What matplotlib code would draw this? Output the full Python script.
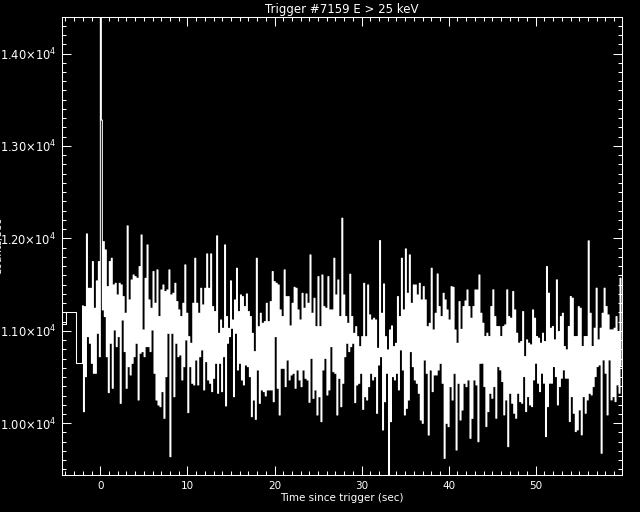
import matplotlib
matplotlib.use('Agg')
import matplotlib.pyplot as plt
import numpy as np
from matplotlib.ticker import MultipleLocator, FuncFormatter

matplotlib.rcParams['font.family'] = 'DejaVu Sans'

TITLE = 'Trigger #7159 E > 25 keV'
XLABEL = 'Time since trigger (sec)'
YLABEL = 'Counts/sec'

# coarse pre-trigger bins (edges in sec, rates in counts/sec)
coarse_edges = [-4.39, -3.90, -2.75, -2.05]
coarse_vals = [11075, 11208, 10656]
prev_edges = [-4.39, -3.90]
prev_vals = [11208]

# fine-resolution rates
t_start = -2.05
t_end = 59.9
counts = [
    11269, 10125, 11262, 10504, 12048, 10937, 11460, 10865, 11460, 10648,
    11749, 10540, 11244, 10540, 11540, 10973, 11749, 10720, 14600, 13280, 11226,
    11965, 11154, 11875, 10720, 11478, 10331, 11749, 10865, 11785, 10378,
    11496, 11009, 11514, 10829, 11388, 10937, 11514, 10215, 11496, 11117,
    11370, 10775, 11190, 10378, 12135, 10612, 11334, 10522, 11550, 10648,
    11604, 10720, 11586, 10865, 11568, 10251, 11695, 10757, 12037, 10775,
    11009, 10720, 11568, 10829, 11929, 10829, 11334, 10775, 11244, 11009,
    11641, 10540, 11298, 10251, 11659, 10197, 11154, 10179, 11442, 10342,
    11496, 10053, 11424, 10504, 11442, 10973, 11659, 9638, 11388, 10973,
    11406, 10287, 11514, 10865, 11316, 10720, 11226, 10739, 11154, 10468,
    # x 180-280 px
    11298, 10612, 11713, 10901, 11190, 10115, 10937, 10612, 10865, 10432,
    11298, 10414, 11785, 10684, 11298, 10414, 11190, 10720, 11460, 10793,
    11280, 10360, 11460, 10666, 11832, 10468, 11460, 10432, 11832, 10342,
    11262, 10486, 11208, 10648, 12027, 10324, 10973, 10648, 11117, 10342,
    11027, 10720, 11929, 10187, 11154, 10865, 11027, 10937, 11540, 11027,
    11117, 10287, 11334, 10973, 11677, 10576, 11208, 10648, 11388, 10468,
    11370, 10414, 11262, 10630, 11399, 10612, 11208, 10504, 11154, 10071,
    10973, 10251, 10775, 10042, 11785, 10576, 11045, 10215, 11190, 10360,
    11081, 10342, 11099, 10295, 11298, 10360, 11099, 10360, 11316, 10360,
    11641, 10233, 11532, 10937, 11514, 10378, 11496, 10089, 11226, 10594,
    # x 280-380 px
    11154, 10594, 11659, 10396, 11370, 10684, 11370, 10468, 11053, 10522,
    11298, 10540, 11471, 10378, 11460, 10576, 11226, 10468, 11117, 10396,
    11406, 10576, 11244, 10486, 11399, 10468, 11298, 10226, 11821, 10702,
    11190, 10269, 11352, 10360, 11045, 10089, 11586, 10287, 11045, 10017,
    11604, 10576, 11262, 10702, 11244, 10305, 11586, 10360, 11226, 10829,
    11226, 10558, 11785, 10540, 11388, 10089, 11550, 10486, 11154, 10179,
    12218, 10432, 11388, 10720, 11154, 10865, 11081, 10775, 11612, 10829,
    11154, 10865, 10973, 10223, 11045, 10414, 10937, 10432, 10829, 10540,
    10937, 10150, 11514, 10287, 10937, 10251, 11496, 10396, 11172, 10540,
    11117, 10468, 11136, 10504, 11117, 10107, 10811, 10630, 11976, 10720,
    # x 380-480 px
    11190, 9927, 11507, 10233, 10937, 10540, 10793, 9400, 11009, 10017,
    11053, 10504, 10829, 10468, 10865, 10540, 11370, 10360, 11154, 10793,
    11785, 10576, 11226, 10089, 11886, 10161, 11406, 10251, 11821, 10775,
    11298, 10612, 11496, 10468, 11496, 10432, 11388, 10324, 11514, 10035,
    11334, 9999, 11478, 10684, 11334, 10540, 11045, 9872, 11081, 10576,
    11677, 10342, 11009, 10522, 11190, 10522, 11615, 10576, 11262, 10648,
    11154, 10432, 11406, 9620, 11334, 9999, 11226, 9963, 11117, 10396,
    11478, 10251, 11471, 10540, 11009, 9710, 10865, 10432, 11316, 10035,
    11016, 10143, 11262, 10432, 11323, 10396, 11442, 10468, 11262, 9837,
    11136, 10053, 11262, 10468, 11442, 10414, 11442, 9800, 11604, 10648,
    # x 480-622 px
    11190, 10649, 11082, 10397, 10938, 9964, 10974, 10126, 10938, 10324,
    11262, 10270, 11443, 10397, 11154, 10054, 11046, 10613, 11046, 10577,
    10938, 10451, 11046, 10090, 11064, 10252, 11443, 9747, 11154, 10324,
    11136, 10216, 11425, 10108, 11226, 10054, 10974, 10324, 10866, 10234,
    10884, 10216, 11208, 10505, 10721, 10126, 10902, 10288, 10866, 10198,
    10848, 10180, 11226, 10469, 11136, 10649, 10938, 10433, 10920, 10342,
    10866, 10541, 10974, 10433, 10884, 9855, 11695, 10180, 11407, 10433,
    11028, 10433, 11046, 10613, 10902, 10505, 11551, 10198, 10992, 10397,
    11154, 10487, 11190, 10577, 10830, 10487, 10794, 10487, 11046, 10018,
    11371, 10288, 11353, 10108, 10938, 9910, 10938, 9928, 11262, 10144,
    11244, 9874, 10830, 10288, 10938, 10108, 10938, 10252, 11973, 10324,
    11190, 10306, 10830, 10397, 11028, 10505, 11461, 10613, 10902, 10631,
    11028, 9675, 11190, 10685, 11461, 10541, 11262, 10090, 11172, 10685,
    11010, 10252, 11010, 10288, 11028, 10234, 11154, 10415, 10992, 10324,
    11569, 10613,
]

XLIM = (-4.4, 59.9)
YLIM = (9440, 14395)


def sci_label(v, pos):
    return r'%.2f$\times$10$^{4}$' % (v / 1e4)


def main():
    fg = 'white'
    lw = 0.75
    fig = plt.figure(figsize=(6.4, 5.12), dpi=100)
    fig.patch.set_facecolor('black')
    ax = fig.add_axes([62 / 640, 1 - 475 / 512, (622 - 62) / 640, (475 - 17) / 512])
    ax.set_facecolor('black')

    n = len(counts)
    t = np.linspace(t_start, t_end, n + 1)
    y = np.append(counts, counts[-1])
    ax.step(t, y, where='post', color=fg, lw=lw)

    ax.step(coarse_edges, coarse_vals + [coarse_vals[-1]], where='post', color=fg, lw=lw)
    ax.step(prev_edges, prev_vals + [prev_vals[-1]], where='post', color=fg, lw=lw)
    # join coarse to fine data
    ax.plot([coarse_edges[-1], t_start], [coarse_vals[-1], counts[0]], color=fg, lw=lw)

    ax.set_xlim(*XLIM)
    ax.set_ylim(*YLIM)

    ax.xaxis.set_major_locator(MultipleLocator(10))
    ax.xaxis.set_minor_locator(MultipleLocator(1))
    ax.yaxis.set_major_locator(MultipleLocator(1000))
    ax.yaxis.set_minor_locator(MultipleLocator(100))
    ax.yaxis.set_major_formatter(FuncFormatter(sci_label))

    ax.tick_params(which='both', direction='in', top=True, right=True,
                   colors=fg, width=lw)
    ax.tick_params(axis='x', labelsize=7.5)
    ax.tick_params(axis='y', labelsize=8.3)
    ax.tick_params(which='major', length=6.5, pad=4)
    ax.tick_params(which='minor', length=3.2)
    for sp in ax.spines.values():
        sp.set_color(fg)
        sp.set_linewidth(lw)

    ax.set_title(TITLE, color=fg, fontsize=8.5, pad=3)
    ax.set_xlabel(XLABEL, color=fg, fontsize=7.5, labelpad=2)
    fig.text(-0.002, 0.52, YLABEL, color=fg, fontsize=7.5, rotation=90,
             ha='center', va='center')

    fig.savefig('out.png', dpi=100, facecolor='black')


if __name__ == '__main__':
    main()
